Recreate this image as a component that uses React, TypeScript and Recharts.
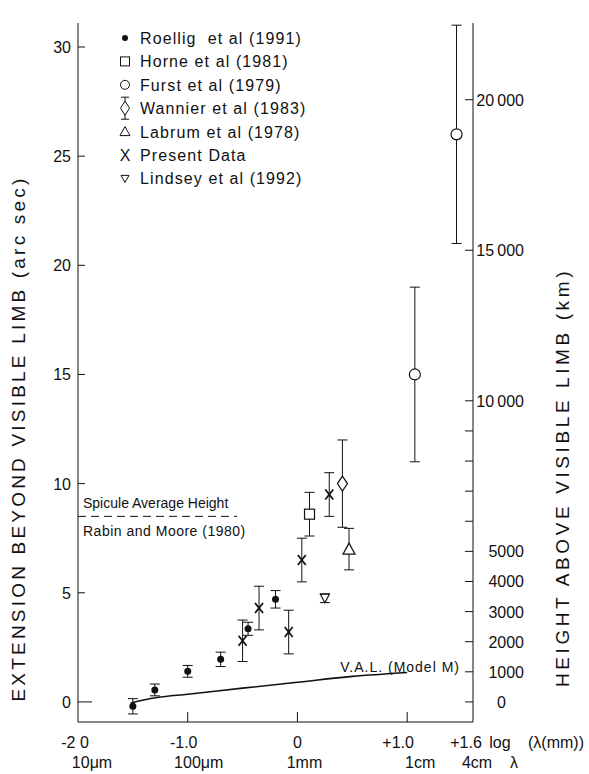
import React from "react";
import {
  ComposedChart,
  Scatter,
  Line,
  XAxis,
  YAxis,
  ErrorBar,
  ReferenceLine,
  ReferenceDot,
  Legend,
} from "recharts";

const FONT = "'Liberation Sans', Arial, sans-serif";

// x = log10(lambda / mm), y = extension beyond the visible limb (arc sec)
const ROELLIG_X = [-1.5, -1.3, -1.0, -0.7, -0.45, -0.2];
const ROELLIG_Y = [-0.2, 0.55, 1.4, 1.95, 3.35, 4.7];
const ROELLIG_ERR = [0.35, 0.27, 0.27, 0.33, 0.3, 0.4];

const HORNE_X = [0.11];
const HORNE_Y = [8.6];
const HORNE_ERR = [1.0];

const FURST_X = [1.07, 1.45];
const FURST_Y = [15, 26];
const FURST_ERR = [4, 5];

const WANNIER_X = [0.41];
const WANNIER_Y = [10];
const WANNIER_ERR = [2];

const LABRUM_X = [0.47];
const LABRUM_Y = [7];
const LABRUM_ERR = [0.95];

const PRESENT_X = [-0.5, -0.35, -0.08, 0.04, 0.29];
const PRESENT_Y = [2.8, 4.3, 3.2, 6.5, 9.5];
const PRESENT_ERR = [0.95, 1.0, 1.0, 1.0, 1.0];

const LINDSEY_X = [0.25];
const LINDSEY_Y = [4.75];
const LINDSEY_ERR = [0.2];

// V.A.L. model M
const VAL_X = [-1.52, -1.28, -1.0, -0.5, 0, 0.5, 1.0];
const VAL_Y = [-0.05, 0.2, 0.35, 0.63, 0.9, 1.17, 1.35];

const SPICULE_HEIGHT = 8.5;
const SPICULE_END = -0.55;

const SERIES_NAMES = [
  "Roellig  et al (1991)",
  "Horne et al (1981)",
  "Furst et al (1979)",
  "Wannier et al (1983)",
  "Labrum et al (1978)",
  "Present Data",
  "Lindsey et al (1992)",
];

const X_DOMAIN = [-2, 1.6];
const Y_DOMAIN = [-0.92, 31.1];
const KM_PER_ARCSEC = 725;

const X_TICKS = [-2, -1, 0, 1, 1.6];
const X_TICK_LABELS = ["-2 0", "-1.0", "0", "+1.0", "+1.6"];
const X_WAVE_LABELS = ["10\u03bcm", "100\u03bcm", "1mm", "1cm", "4cm"];

const LEFT_TICKS = [0, 5, 10, 15, 20, 25, 30];
const RIGHT_TICKS = [0, 1000, 2000, 3000, 4000, 5000, 6000, 7000, 8000, 9000, 10000, 15000, 20000];
const RIGHT_TICK_LABELS = ["0", "1000", "2000", "3000", "4000", "5000", "", "", "", "", "10\u2009000", "15\u2009000", "20\u2009000"];

const toRows = (xs: number[], ys: number[], errs?: number[]) =>
  xs.map((x, i) => ({ x, y: ys[i], err: errs ? errs[i] : 0 }));

const roellig = toRows(ROELLIG_X, ROELLIG_Y, ROELLIG_ERR);
const horne = toRows(HORNE_X, HORNE_Y, HORNE_ERR);
const furst = toRows(FURST_X, FURST_Y, FURST_ERR);
const wannier = toRows(WANNIER_X, WANNIER_Y, WANNIER_ERR);
const labrum = toRows(LABRUM_X, LABRUM_Y, LABRUM_ERR);
const present = toRows(PRESENT_X, PRESENT_Y, PRESENT_ERR);
const lindsey = toRows(LINDSEY_X, LINDSEY_Y, LINDSEY_ERR);
const valModel = toRows(VAL_X, VAL_Y);

const INK = "#111";

// marker shapes
const FilledDot = ({ cx, cy }: any) => <circle cx={cx} cy={cy} r={3.5} fill={INK} />;
const OpenSquare = ({ cx, cy }: any) => (
  <rect x={cx - 5} y={cy - 5} width={10} height={10} fill="#fff" stroke={INK} strokeWidth={1.2} />
);
const OpenCircle = ({ cx, cy }: any) => (
  <circle cx={cx} cy={cy} r={5.5} fill="#fff" stroke={INK} strokeWidth={1.2} />
);
const OpenDiamond = ({ cx, cy }: any) => (
  <polygon
    points={`${cx},${cy - 7.5} ${cx + 5},${cy} ${cx},${cy + 7.5} ${cx - 5},${cy}`}
    fill="#fff"
    stroke={INK}
    strokeWidth={1.2}
  />
);
const OpenTriangle = ({ cx, cy }: any) => (
  <polygon
    points={`${cx},${cy - 6} ${cx + 6},${cy + 5} ${cx - 6},${cy + 5}`}
    fill="#fff"
    stroke={INK}
    strokeWidth={1.2}
  />
);
const Cross = ({ cx, cy }: any) => (
  <g stroke={INK} strokeWidth={1.8}>
    <line x1={cx - 4} y1={cy - 5} x2={cx + 4} y2={cy + 5} />
    <line x1={cx + 4} y1={cy - 5} x2={cx - 4} y2={cy + 5} />
  </g>
);
const DownTriangle = ({ cx, cy }: any) => (
  <polygon
    points={`${cx - 4.5},${cy - 4} ${cx + 4.5},${cy - 4} ${cx},${cy + 4.5}`}
    fill="#fff"
    stroke={INK}
    strokeWidth={1.2}
  />
);

const LegendIcon = ({ i, cx, cy }: { i: number; cx: number; cy: number }) => {
  switch (i) {
    case 0:
      return <circle cx={cx} cy={cy} r={3} fill={INK} />;
    case 1:
      return <rect x={cx - 4.5} y={cy - 4.5} width={9} height={9} fill="#fff" stroke={INK} />;
    case 2:
      return <circle cx={cx} cy={cy} r={4.5} fill="#fff" stroke={INK} />;
    case 3:
      return (
        <g stroke={INK} fill="#fff">
          <line x1={cx} y1={cy - 11} x2={cx} y2={cy + 11} />
          <line x1={cx - 4} y1={cy - 11} x2={cx + 4} y2={cy - 11} />
          <line x1={cx - 4} y1={cy + 11} x2={cx + 4} y2={cy + 11} />
          <polygon points={`${cx},${cy - 7} ${cx + 4.5},${cy} ${cx},${cy + 7} ${cx - 4.5},${cy}`} />
        </g>
      );
    case 4:
      return <polygon points={`${cx},${cy - 5} ${cx + 5},${cy + 4} ${cx - 5},${cy + 4}`} fill="#fff" stroke={INK} />;
    case 5:
      return (
        <text x={cx} y={cy + 6} textAnchor="middle" fontSize={16} fontFamily={FONT} fill={INK}>
          X
        </text>
      );
    default:
      return <polygon points={`${cx - 4},${cy - 3} ${cx + 4},${cy - 3} ${cx},${cy + 4}`} fill="#fff" stroke={INK} />;
  }
};

const LegendContent = () => (
  <svg width={240} height={165}>
    {SERIES_NAMES.map((name, i) => {
      const cy = 10 + i * 23.4;
      return (
        <g key={name}>
          <LegendIcon i={i} cx={10} cy={cy} />
          <text
            x={25}
            y={cy + 6}
            fontSize={16}
            fontFamily={FONT}
            letterSpacing={1.1}
            fill={INK}
            style={{ whiteSpace: "pre" }}
          >
            {name}
          </text>
        </g>
      );
    })}
  </svg>
);

const LeftTick = ({ x, y, payload }: any) => {
  const len = payload.value === 0 ? 14 : 7;
  return (
    <g>
      <line x1={x} x2={x + len} y1={y} y2={y} stroke={INK} />
      <text x={x - 7} y={y + 6} textAnchor="end" fontSize={16} fontFamily={FONT} fill={INK}>
        {payload.value}
      </text>
    </g>
  );
};

const RightTick = ({ x, y, payload }: any) => {
  const label = RIGHT_TICK_LABELS[RIGHT_TICKS.indexOf(payload.value)] ?? "";
  return (
    <g>
      <line x1={x - 8} x2={x} y1={y} y2={y} stroke={INK} />
      {label === "0" ? (
        <text x={x + 24} y={y + 6} fontSize={16} fontFamily={FONT} fill={INK}>
          0
        </text>
      ) : (
        <text x={x + 51} y={y + 6} textAnchor="end" fontSize={16} fontFamily={FONT} fill={INK}>
          {label}
        </text>
      )}
    </g>
  );
};

const ROW1_DX = [-3, -4, 0, -9, -7];
const ROW2_DX = [14, 11, 7, 13, 4];

const BottomTick = ({ x, y, index }: any) => {
  const last = index === X_TICKS.length - 1;
  return (
    <g fontFamily={FONT} fontSize={16} fill={INK}>
      {index > 0 && !last && <line x1={x} x2={x} y1={y} y2={y - 10} stroke={INK} />}
      <text x={x + ROW1_DX[index]} y={y + 26} textAnchor="middle">
        {X_TICK_LABELS[index]}
      </text>
      <text x={x + ROW2_DX[index]} y={y + 46} textAnchor="middle">
        {X_WAVE_LABELS[index]}
      </text>
      {last && (
        <>
          <text x={x + 27} y={y + 26} textAnchor="middle">log</text>
          <text x={x + 83} y={y + 26} textAnchor="middle">({"\u03bb"}(mm))</text>
          <text x={x + 41} y={y + 46} textAnchor="middle">{"\u03bb"}</text>
        </>
      )}
    </g>
  );
};

const SpiculeLabel = ({ viewBox }: any) => (
  <g fontFamily={FONT} fontSize={14} fill={INK}>
    <text x={viewBox.x + 5} y={viewBox.y - 8}>Spicule Average Height</text>
    <text x={viewBox.x + 5} y={viewBox.y + 20} letterSpacing={0.5}>
      Rabin and Moore (1980)
    </text>
  </g>
);

const ValLabel = ({ viewBox }: any) => (
  <text x={viewBox.x} y={viewBox.y} fontFamily={FONT} fontSize={14} letterSpacing={1} fill={INK}>
    V.A.L. (Model M)
  </text>
);

const axisTitle = (text: string, dx: number, dy: number, spacing: number) => ({ viewBox }: any) => {
  const cx = viewBox.x + dx;
  const cy = viewBox.y + viewBox.height / 2 + dy;
  return (
    <text
      x={cx}
      y={cy}
      transform={`rotate(-90, ${cx}, ${cy})`}
      textAnchor="middle"
      dominantBaseline="central"
      fontFamily={FONT}
      fontSize={19}
      letterSpacing={spacing}
      fill={INK}
    >
      {text}
    </text>
  );
};

const errorBar = <ErrorBar dataKey="err" direction="y" width={5} stroke={INK} strokeWidth={1} />;

export default function App() {
  return (
    <div style={{ position: "absolute", left: 0, top: 0, width: 589, height: 774, background: "#fff" }}>
      <ComposedChart width={589} height={774} margin={{ top: 23, right: 0, bottom: 0, left: 0 }}>
        <XAxis
          xAxisId="x"
          dataKey="x"
          type="number"
          domain={X_DOMAIN}
          allowDataOverflow
          ticks={X_TICKS}
          interval={0}
          height={52}
          tickSize={0}
          tickMargin={0}
          tickLine={false}
          axisLine={{ stroke: INK }}
          tick={<BottomTick />}
        />
        <XAxis
          xAxisId="top"
          orientation="top"
          type="number"
          domain={X_DOMAIN}
          allowDataOverflow
          height={0}
          tick={false}
          tickLine={false}
          axisLine={{ stroke: INK }}
        />
        <YAxis
          yAxisId="left"
          dataKey="y"
          type="number"
          domain={Y_DOMAIN}
          allowDataOverflow
          ticks={LEFT_TICKS}
          interval={0}
          width={78}
          tickSize={0}
          tickMargin={0}
          tickLine={false}
          axisLine={{ stroke: INK }}
          tick={<LeftTick />}
          label={axisTitle("EXTENSION BEYOND VISIBLE LIMB (arc sec)", 18, 66, 3.2)}
        />
        <YAxis
          yAxisId="right"
          orientation="right"
          type="number"
          domain={[Y_DOMAIN[0] * KM_PER_ARCSEC, Y_DOMAIN[1] * KM_PER_ARCSEC]}
          allowDataOverflow
          ticks={RIGHT_TICKS}
          interval={0}
          width={116}
          tickSize={0}
          tickMargin={0}
          tickLine={false}
          axisLine={{ stroke: INK }}
          tick={<RightTick />}
          label={axisTitle("HEIGHT ABOVE VISIBLE LIMB (km)", 89, 105, 3.6)}
        />
        <Legend
          layout="vertical"
          align="center"
          verticalAlign="middle"
          wrapperStyle={{ position: "absolute", top: 28, left: 115, width: 240, height: 165 }}
          content={<LegendContent />}
        />

        <ReferenceLine
          xAxisId="x"
          yAxisId="left"
          segment={[
            { x: X_DOMAIN[0], y: SPICULE_HEIGHT },
            { x: SPICULE_END, y: SPICULE_HEIGHT },
          ]}
          stroke={INK}
          strokeDasharray="8 5"
          label={SpiculeLabel}
        />
        <ReferenceDot xAxisId="x" yAxisId="left" x={0.39} y={1.37} r={0} fill="none" stroke="none" label={ValLabel} />

        <Line
          xAxisId="x"
          yAxisId="left"
          data={valModel}
          dataKey="y"
          type="monotone"
          stroke={INK}
          strokeWidth={1.6}
          dot={false}
          isAnimationActive={false}
        />

        <Scatter name={SERIES_NAMES[0]} xAxisId="x" yAxisId="left" data={roellig} dataKey="y" shape={FilledDot} isAnimationActive={false}>
          {errorBar}
        </Scatter>
        <Scatter name={SERIES_NAMES[1]} xAxisId="x" yAxisId="left" data={horne} dataKey="y" shape={OpenSquare} isAnimationActive={false}>
          {errorBar}
        </Scatter>
        <Scatter name={SERIES_NAMES[2]} xAxisId="x" yAxisId="left" data={furst} dataKey="y" shape={OpenCircle} isAnimationActive={false}>
          {errorBar}
        </Scatter>
        <Scatter name={SERIES_NAMES[3]} xAxisId="x" yAxisId="left" data={wannier} dataKey="y" shape={OpenDiamond} isAnimationActive={false}>
          {errorBar}
        </Scatter>
        <Scatter name={SERIES_NAMES[4]} xAxisId="x" yAxisId="left" data={labrum} dataKey="y" shape={OpenTriangle} isAnimationActive={false}>
          {errorBar}
        </Scatter>
        <Scatter name={SERIES_NAMES[5]} xAxisId="x" yAxisId="left" data={present} dataKey="y" shape={Cross} isAnimationActive={false}>
          {errorBar}
        </Scatter>
        <Scatter name={SERIES_NAMES[6]} xAxisId="x" yAxisId="left" data={lindsey} dataKey="y" shape={DownTriangle} isAnimationActive={false}>
          {errorBar}
        </Scatter>
      </ComposedChart>
    </div>
  );
}
